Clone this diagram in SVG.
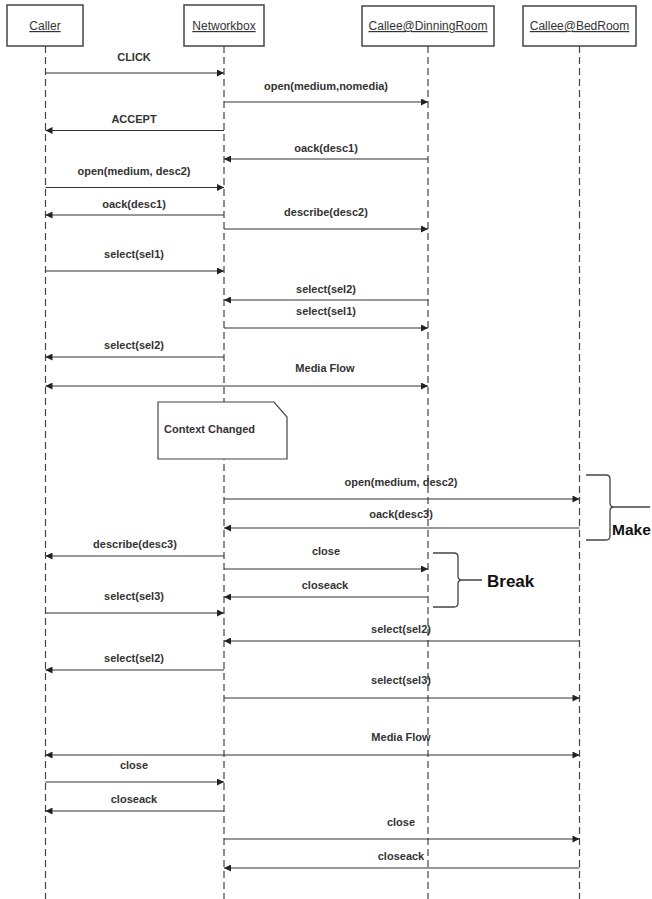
<svg xmlns="http://www.w3.org/2000/svg" width="652" height="899" viewBox="0 0 652 899">
<style>
.box{fill:#fff;stroke:#444;stroke-width:1.5}
.head{font-family:"Liberation Sans",Arial,sans-serif;font-size:12px;fill:#333;text-anchor:middle;text-decoration:underline}
.life{stroke:#444;stroke-width:1.2;stroke-dasharray:7,4;fill:none}
.msg{stroke:#333;stroke-width:1.2;fill:none;marker-end:url(#ah)}
.both{marker-start:url(#ah)}
.lbl{font-family:"Liberation Sans",Arial,sans-serif;font-size:11px;font-weight:bold;fill:#333;text-anchor:middle}
.big{font-family:"Liberation Sans",Arial,sans-serif;font-size:17px;font-weight:bold;fill:#111}
.brace{stroke:#444;stroke-width:1.3;fill:none}
</style>
<defs>
<marker id="ah" viewBox="0 0 10 10" refX="10" refY="5" markerWidth="8" markerHeight="7" markerUnits="userSpaceOnUse" orient="auto-start-reverse">
<path d="M0,0 L10,5 L0,10 z" fill="#222"/>
</marker>
</defs>
<rect width="652" height="899" fill="#fff"/>

<g id="caller">
<line class="life" x1="45.5" y1="46" x2="45.5" y2="899"/>
<rect class="box" x="7" y="5" width="76" height="41"/>
<text class="head" x="45" y="30">Caller</text>
</g>
<g id="networkbox">
<line class="life" x1="224" y1="46" x2="224" y2="899"/>
<rect class="box" x="184" y="5" width="80" height="41"/>
<text class="head" x="224" y="30">Networkbox</text>
</g>
<g id="dinningroom">
<line class="life" x1="428" y1="46" x2="428" y2="899"/>
<rect class="box" x="362" y="6" width="132" height="40"/>
<text class="head" x="428" y="30">Callee@DinningRoom</text>
</g>
<g id="bedroom">
<line class="life" x1="579.5" y1="46" x2="579.5" y2="899"/>
<rect class="box" x="523" y="6" width="113" height="40"/>
<text class="head" x="579.5" y="30">Callee@BedRoom</text>
</g>

<g id="connectors">
<line class="msg" x1="45.5" y1="73" x2="224" y2="73"/>
<line class="msg" x1="224" y1="102" x2="428" y2="102"/>
<line class="msg" x1="224" y1="130.5" x2="45.5" y2="130.5"/>
<line class="msg" x1="428" y1="159" x2="224" y2="159"/>
<line class="msg" x1="45.5" y1="187.5" x2="224" y2="187.5"/>
<line class="msg" x1="224" y1="215" x2="45.5" y2="215"/>
<line class="msg" x1="224" y1="229" x2="428" y2="229"/>
<line class="msg" x1="45.5" y1="271" x2="224" y2="271"/>
<line class="msg" x1="428" y1="300" x2="224" y2="300"/>
<line class="msg" x1="224" y1="328" x2="428" y2="328"/>
<line class="msg" x1="224" y1="357" x2="45.5" y2="357"/>
<line class="msg both" x1="45.5" y1="386" x2="428" y2="386"/>
<line class="msg" x1="224" y1="499" x2="579.5" y2="499"/>
<line class="msg" x1="579.5" y1="528" x2="224" y2="528"/>
<line class="msg" x1="224" y1="556" x2="45.5" y2="556"/>
<line class="msg" x1="224" y1="569" x2="428" y2="569"/>
<line class="msg" x1="428" y1="597" x2="224" y2="597"/>
<line class="msg" x1="45.5" y1="613" x2="224" y2="613"/>
<line class="msg" x1="579.5" y1="641" x2="224" y2="641"/>
<line class="msg" x1="224" y1="670" x2="45.5" y2="670"/>
<line class="msg" x1="224" y1="698" x2="579.5" y2="698"/>
<line class="msg both" x1="45.5" y1="755" x2="579.5" y2="755"/>
<line class="msg" x1="45.5" y1="782" x2="224" y2="782"/>
<line class="msg" x1="224" y1="811" x2="45.5" y2="811"/>
<line class="msg" x1="224" y1="839" x2="579.5" y2="839"/>
<line class="msg" x1="579.5" y1="868" x2="224" y2="868"/>
</g>

<g id="labels">
<text class="lbl" x="134" y="61">CLICK</text>
<text class="lbl" x="326" y="90">open(medium,nomedia)</text>
<text class="lbl" x="134" y="123">ACCEPT</text>
<text class="lbl" x="326" y="152">oack(desc1)</text>
<text class="lbl" x="134" y="175">open(medium, desc2)</text>
<text class="lbl" x="134" y="208">oack(desc1)</text>
<text class="lbl" x="326" y="216">describe(desc2)</text>
<text class="lbl" x="134" y="258">select(sel1)</text>
<text class="lbl" x="326" y="293">select(sel2)</text>
<text class="lbl" x="326" y="315">select(sel1)</text>
<text class="lbl" x="134" y="349">select(sel2)</text>
<text class="lbl" x="325" y="372">Media Flow</text>
<text class="lbl" x="401" y="486">open(medium, desc2)</text>
<text class="lbl" x="401" y="518">oack(desc3)</text>
<text class="lbl" x="135" y="548">describe(desc3)</text>
<text class="lbl" x="326" y="555">close</text>
<text class="lbl" x="325" y="589">closeack</text>
<text class="lbl" x="134" y="600">select(sel3)</text>
<text class="lbl" x="401" y="633">select(sel2)</text>
<text class="lbl" x="134" y="662">select(sel2)</text>
<text class="lbl" x="401" y="684">select(sel3)</text>
<text class="lbl" x="401" y="741">Media Flow</text>
<text class="lbl" x="134" y="769">close</text>
<text class="lbl" x="134" y="803">closeack</text>
<text class="lbl" x="401" y="826">close</text>
<text class="lbl" x="401" y="860">closeack</text>
</g>

<g id="note">
<path d="M158,402 L274,402 L287,417 L287,459 L158,459 Z" fill="#fff" stroke="#444" stroke-width="1.2"/>
<text class="lbl" x="164" y="433" style="text-anchor:start">Context Changed</text>
</g>

<g id="make">
<path class="brace" d="M586,475 L606,475 Q610,475 610,479 L610,503 Q610,507 614,507 L650,507 M614,507 Q610,507 610,511 L610,536 Q610,540 606,540 L586,540"/>
<text class="big" x="612" y="535" style="font-size:15.5px">Make</text>
</g>
<g id="break">
<path class="brace" d="M433,553 L454,553 Q458,553 458,557 L458,576 Q458,580 462,580 L482,580 M462,580 Q458,580 458,584 L458,603 Q458,607 454,607 L433,607"/>
<text class="big" x="487" y="587">Break</text>
</g>
</svg>
